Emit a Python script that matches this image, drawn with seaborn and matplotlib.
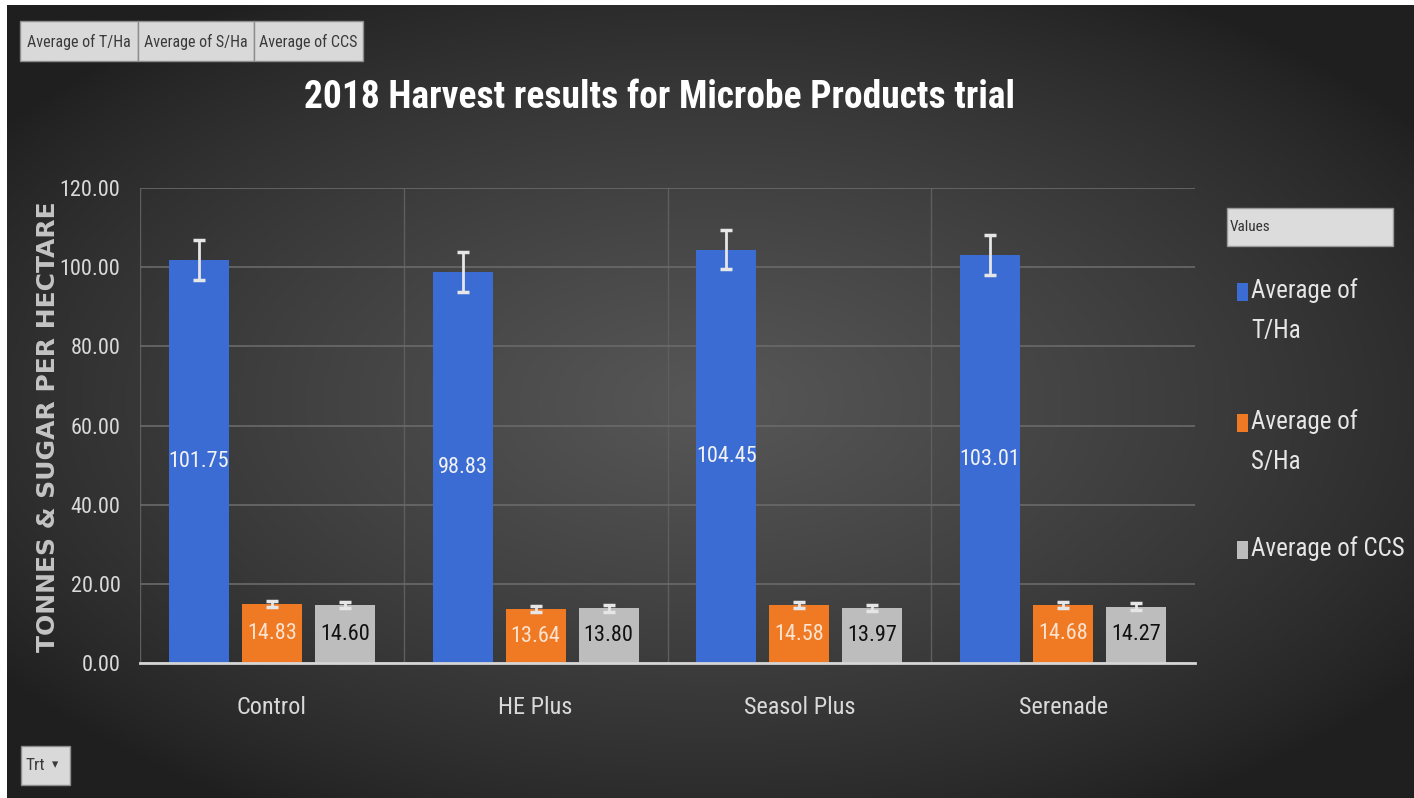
import numpy as np
import pandas as pd
import matplotlib
matplotlib.use("Agg")
import matplotlib.pyplot as plt
from matplotlib.patches import Rectangle
from matplotlib.colors import LinearSegmentedColormap
import seaborn as sns

# data
treatments = ["Control", "HE Plus", "Seasol Plus", "Serenade"]
series = ["Average of T/Ha", "Average of S/Ha", "Average of CCS"]
t_ha = [101.75, 98.83, 104.45, 103.01]
s_ha = [14.83, 13.64, 14.58, 14.68]
ccs = [14.60, 13.80, 13.97, 14.27]
t_ha_err = [5.0, 5.0, 5.0, 5.0]
s_ha_err = [0.8, 0.8, 0.8, 0.8]
ccs_err = [0.8, 0.8, 0.8, 0.8]
y_ticks = [0, 20, 40, 60, 80, 100, 120]
legend_labels = ["Average of\nT/Ha", "Average of\nS/Ha", "Average of CCS"]
colors = ["#3a6cd4", "#f07a24", "#bdbdbd"]
label_colors = ["#f2f2f2", "#fbe3d0", "#111111"]

df = pd.DataFrame({
    "Trt": treatments * 3,
    "Series": np.repeat(series, len(treatments)),
    "Value": t_ha + s_ha + ccs,
    "Err": t_ha_err + s_ha_err + ccs_err,
})

W, H = 1414, 798
sns.set_theme(style="dark")
plt.rcParams["font.family"] = ["Roboto Condensed", "Roboto", "DejaVu Sans"]

fig = plt.figure(figsize=(W / 100, H / 100), dpi=100, facecolor="white")

# dark radial background
bg = fig.add_axes([7 / W, 0, 1 - 7 / W, 1 - 5 / H], zorder=-10)
yy, xx = np.mgrid[0:1:300j, 0:1:500j]
r = np.sqrt(((xx - 0.5) / 0.62) ** 2 + ((yy - 0.5) / 0.6) ** 2)
shade = np.clip(1 - r, 0, 1) ** 0.8
cmap = LinearSegmentedColormap.from_list("bg", ["#1f1f1f", "#575757"])
bg.imshow(shade, cmap=cmap, aspect="auto", extent=[0, 1, 0, 1], vmin=0, vmax=1)
bg.axis("off")

ax = fig.add_axes([140 / W, 1 - 663 / H, (1195 - 140) / W, (663 - 188) / H])
ax.patch.set_alpha(0)

sns.barplot(data=df, x="Trt", y="Value", hue="Series", palette=colors,
            width=0.83, gap=0.18, errorbar=None, saturation=1, linewidth=0,
            legend=False, ax=ax, zorder=3)

for cont, sname, tc in zip(ax.containers, series, label_colors):
    sub = df[df["Series"] == sname]
    xs = [p.get_x() + p.get_width() / 2 for p in cont]
    ax.errorbar(xs, sub["Value"], yerr=sub["Err"], fmt="none", ecolor="#e6e6e6",
                elinewidth=2, capsize=4.5, capthick=2.5, zorder=4)
    ax.bar_label(cont, labels=[f"{v:.2f}" for v in sub["Value"]],
                 label_type="center", color=tc, fontsize=16, zorder=5)

ax.set_xlim(-0.5, 3.5)
ax.set_ylim(0, 120)
ax.set_yticks(y_ticks)
ax.set_yticklabels([f"{v:.2f}" for v in y_ticks])
ax.grid(axis="y", color="#6a6a6a", linewidth=1.2, zorder=0)
for xv in [-0.5, 0.5, 1.5, 2.5]:
    ax.axvline(xv, color="#5e5e5e", linewidth=1.0, zorder=0)
for s in ["top", "right", "left"]:
    ax.spines[s].set_visible(False)
ax.spines["bottom"].set_color("#d6d6d6")
ax.spines["bottom"].set_linewidth(2)
ax.spines["bottom"].set_zorder(6)
ax.tick_params(axis="y", length=0, pad=14, labelsize=16, labelcolor="#d9d9d9")
ax.tick_params(axis="x", length=0, pad=24, labelsize=17.5, labelcolor="#d9d9d9")
ax.set_xlabel("")
ax.set_ylabel("")

fig.text(48 / W, 1 - 427 / H, "TONNES & SUGAR PER HECTARE", rotation=90,
         ha="center", va="center", family="DejaVu Sans", weight="bold",
         fontsize=18, color="#c4c4c4")
fig.text(660 / W, 1 - 98 / H, "2018 Harvest results for Microbe Products trial",
         ha="center", va="center", weight="bold", fontsize=27, color="white")

# legend panel
fig.patches.append(Rectangle((1227 / W, 1 - 246 / H), 166 / W, 38 / H,
                             transform=fig.transFigure, facecolor="#dcdcdc",
                             edgecolor="#9a9a9a", linewidth=1))
fig.text(1230 / W, 1 - 227 / H, "Values", ha="left", va="center",
         fontsize=11, color="#333333")
for lab, c, yc in zip(legend_labels, colors, [292, 423, 550]):
    fig.patches.append(Rectangle((1237 / W, 1 - (yc + 9) / H), 11 / W, 18 / H,
                                 transform=fig.transFigure, facecolor=c,
                                 edgecolor="none"))
    fig.text(1251 / W, 1 - (yc - 14) / H, lab, ha="left", va="top",
             fontsize=18, color="#e6e6e6", linespacing=1.85)

# slicer buttons
for lab, x0, x1 in zip(series, [20, 138, 254], [138, 254, 363]):
    fig.patches.append(Rectangle((x0 / W, 1 - 61 / H), (x1 - x0) / W, 40 / H,
                                 transform=fig.transFigure, facecolor="#d9d9d9",
                                 edgecolor="#8c8c8c", linewidth=1))
    fig.text((x0 + x1) / 2 / W, 1 - 42 / H, lab, ha="center", va="center",
             fontsize=11.5, color="#3a3a3a")
fig.patches.append(Rectangle((21 / W, 1 - 785 / H), 49 / W, 39 / H,
                             transform=fig.transFigure, facecolor="#d9d9d9",
                             edgecolor="#8c8c8c", linewidth=1))
fig.text(25 / W, 1 - 766 / H, "Trt", ha="left", va="center", fontsize=12.5,
         color="#3a3a3a")
fig.text(52 / W, 1 - 765 / H, "▾", ha="left", va="center", fontsize=9,
         color="#3a3a3a", family="DejaVu Sans")

fig.savefig("out.png", dpi=100, facecolor=fig.get_facecolor())
